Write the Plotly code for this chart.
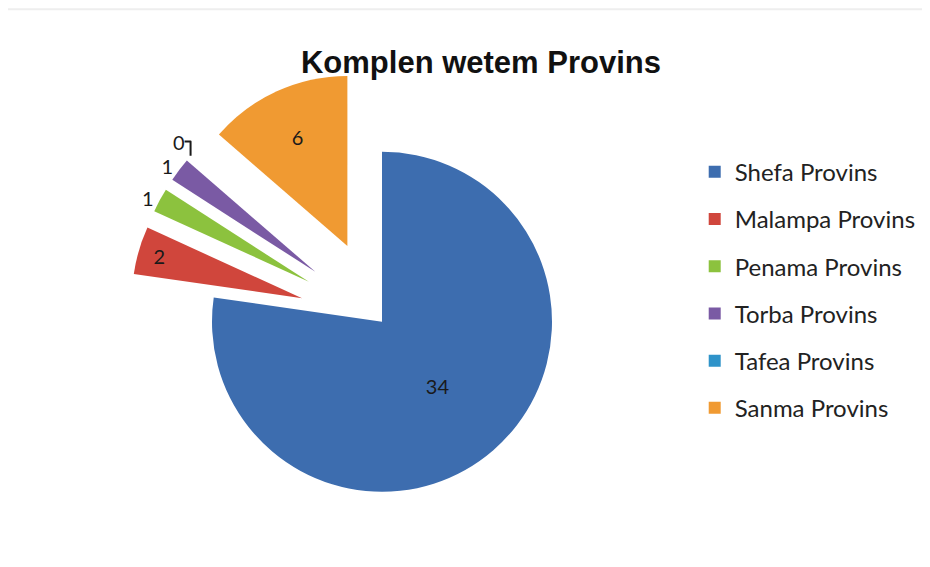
import plotly.graph_objects as go

provinces = ["Shefa Provins", "Malampa Provins", "Penama Provins",
             "Torba Provins", "Tafea Provins", "Sanma Provins"]
counts = [34, 2, 1, 1, 0, 6]
colors = ["#3D6DAF", "#D0463C", "#8CC23E", "#7A5AA4", "#2F93C9", "#F09A32"]
pulls = [0, 0.49, 0.49, 0.49, 0.49, 0.49]
text_pos = ["inside", "inside", "outside", "outside", "outside", "inside"]

# page body adds an 8px offset; work in figure coordinates
W, H = 930, 567
r_px = 170
box = r_px * (2 + 2 * max(pulls))
cx = 374

fig = go.Figure()
fig.add_trace(go.Pie(
    labels=provinces, values=counts, sort=False, direction="clockwise",
    rotation=0, pull=pulls, showlegend=False,
    marker=dict(colors=colors, line=dict(width=0)),
    textinfo="value", textposition=text_pos,
    insidetextorientation="horizontal",
    textfont=dict(family="Lato, Noto Sans, sans-serif", size=20, color="#1a1a1a"),
    domain=dict(x=[(cx - box / 2) / W, (cx + box / 2) / W], y=[0, box / H]),
    hoverinfo="label+value",
))

for name, col in zip(provinces, colors):
    fig.add_trace(go.Scatter(
        x=[None], y=[None], mode="markers", name=name, legendgroup=name,
        marker=dict(symbol="square", size=10, color=col),
    ))

fig.update_layout(
    width=W, height=H,
    margin=dict(l=0, r=0, t=0, b=0, autoexpand=False),
    paper_bgcolor="white", plot_bgcolor="white",
    title=dict(text="<b>Komplen wetem Provins</b>", x=0.5086, xanchor="center",
               y=0.905, yanchor="middle",
               font=dict(family="Liberation Sans, Arial, sans-serif", size=31, color="#111111")),
    xaxis=dict(visible=False), yaxis=dict(visible=False),
    legend=dict(x=0.7384, y=0.75, xanchor="left", yanchor="top",
                tracegroupgap=13, itemsizing="constant",
                font=dict(family="Lato, Noto Sans, sans-serif", size=24, color="#222222"),
                bgcolor="rgba(0,0,0,0)"),
    shapes=[
        dict(type="line", xref="paper", yref="paper", x0=0, x1=1, y0=0.998, y1=0.998,
             line=dict(color="#eeeeee", width=2)),
    ],
)

fig.write_html("out.html")
